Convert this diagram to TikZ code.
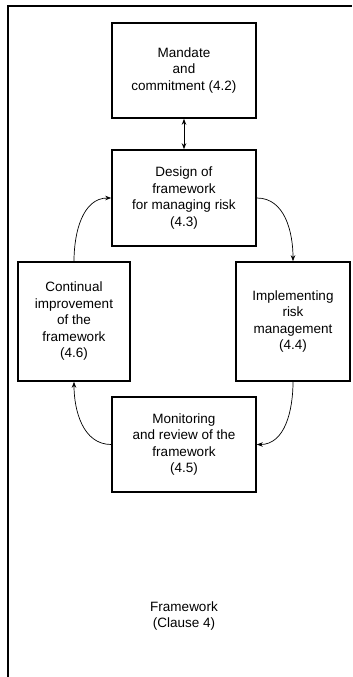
\documentclass[tikz,border=0pt]{standalone}
\usepackage{fontspec}
\setmainfont{Liberation Sans}
\usetikzlibrary{arrows.meta}

\tikzset{
  stage/.style={draw, line width=1.6bp, align=center, inner sep=2bp,
    font=\fontsize{13.5bp}{16.5bp}\selectfont},
  flow/.style={line width=0.7bp, -{Stealth[length=6bp,width=4.5bp]}},
}

\begin{document}
\begin{tikzpicture}[x=1bp, y=-1bp]
  % page size of the reference, y runs downwards
  \useasboundingbox (0,0) rectangle (352,677);

  % open frame: left and top edge only
  \draw[line width=1.6bp] (8,677) -- (8,6) -- (352,6);

  \node[stage, minimum width=144bp, minimum height=95bp] (mandate) at (184,70.5)
    {Mandate\\and\\commitment (4.2)};
  \node[stage, minimum width=144bp, minimum height=96bp] (design) at (184,198)
    {Design of\\framework\\for managing risk\\(4.3)};
  \node[stage, minimum width=112bp, minimum height=119bp] (improve) at (74,321.5)
    {Continual\\improvement\\of the\\framework\\(4.6)};
  \node[stage, minimum width=114bp, minimum height=119bp] (implement) at (293,321.5)
    {Implementing\\risk\\management\\(4.4)};
  \node[stage, minimum width=144bp, minimum height=95bp] (monitor) at (184,444.5)
    {Monitoring\\and review of the\\framework\\(4.5)};

  \node[align=center, font=\fontsize{13.5bp}{16.5bp}\selectfont] (clause) at (184,616)
    {Framework\\(Clause 4)};

  \draw[line width=0.9bp, {Stealth[length=6bp,width=4.5bp]}-{Stealth[length=6bp,width=4.5bp]}]
    (mandate) -- (design);
  \draw[flow] (design.east) to[out=0, in=90] (implement.north);
  \draw[flow] (implement.south) to[out=-90, in=0] (monitor.east);
  \draw[flow] (monitor.west) to[out=180, in=-90] (improve.south);
  \draw[flow] (improve.north) to[out=90, in=180] (design.west);
\end{tikzpicture}
\end{document}
